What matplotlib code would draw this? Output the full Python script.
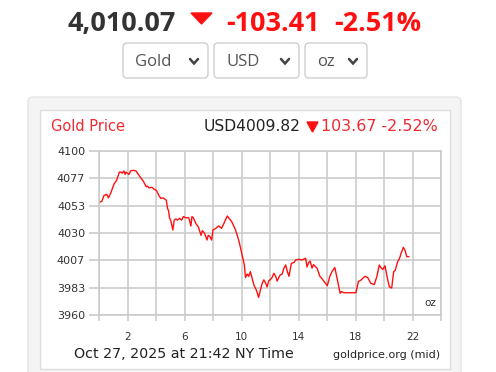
import matplotlib.pyplot as plt
from matplotlib.patches import FancyBboxPatch, Rectangle, Polygon

# hours since midnight NY time and gold price (USD/oz)
hours = [0.0, 0.2, 0.35, 0.54, 0.66, 0.82, 1.06, 1.24, 1.43, 1.55, 1.62, 1.75, 1.83, 1.9, 2.0,
         2.1, 2.22, 2.4, 2.6, 2.7, 2.94, 3.12, 3.31, 3.4, 3.5, 3.72, 3.85, 3.94, 4.05, 4.2,
         4.34, 4.5, 4.72, 4.81, 4.88, 4.95, 5.05, 5.18, 5.28, 5.4, 5.5, 5.66, 5.8, 5.92, 6.1,
         6.3, 6.45, 6.52, 6.62, 6.8, 6.98, 7.16, 7.25, 7.4, 7.58, 7.66, 7.78, 7.9, 8.0, 8.2,
         8.4, 8.6, 8.72, 9.0, 9.1, 9.3, 9.58, 9.8, 9.9, 10.05, 10.2, 10.28, 10.4, 10.5, 10.62,
         10.73, 10.87, 11.05, 11.2, 11.3, 11.45, 11.57, 11.7, 11.8, 11.9, 12.0, 12.15, 12.27,
         12.4, 12.5, 12.7, 12.85, 12.98, 13.1, 13.22, 13.33, 13.5, 13.7, 13.8, 14.04, 14.25,
         14.5, 14.6, 14.72, 14.82, 14.95, 15.05, 15.3, 15.5, 15.65, 15.9, 16.02, 16.2, 16.35,
         16.55, 16.68, 16.78, 16.92, 17.0, 17.2, 18.03, 18.2, 18.4, 18.66, 18.85, 19.08, 19.32,
         19.5, 19.67, 19.8, 19.92, 20.07, 20.26, 20.38, 20.54, 20.68, 20.78, 20.85, 20.96,
         21.08, 21.2, 21.36, 21.48, 21.6, 21.74]
prices = [4056, 4057, 4062, 4063, 4060, 4064, 4072, 4075, 4082, 4082, 4081, 4083, 4080, 4082, 4081,
          4080, 4083, 4083.5, 4083, 4081, 4077, 4074, 4069.5, 4070, 4068.5, 4069, 4067.5, 4067, 4066, 4062,
          4059.6, 4060, 4058, 4051, 4049, 4043, 4040, 4032.6, 4041, 4042, 4041, 4042.5, 4041, 4044, 4043,
          4043, 4036, 4044, 4043, 4038, 4035, 4028, 4032, 4030, 4024, 4028, 4027, 4024, 4032.6, 4034,
          4036, 4034, 4037, 4044.5, 4043, 4040, 4032.6, 4024, 4019, 4011, 4002.7, 3992, 3995, 3993, 3997,
          3992, 3985.6, 3981, 3975, 3980, 3987, 3990, 3987, 3984, 3989, 3990, 3992, 3995.6,
          3993, 3989, 3994, 3995, 4000, 4002.7, 3997, 3993, 4004, 4005, 4007, 4007.5, 4007,
          4008.4, 4001, 4005, 4006, 4000, 4003, 4000, 3993, 3991, 3987, 3985, 3993, 3997,
          4000.5, 3993, 3987, 3978.5, 3980, 3979, 3979, 3988.5, 3990, 3993, 3992, 3987, 3986,
          3993, 4002.7, 4000, 3999, 4002, 3990, 3984, 3983, 3997, 3998, 4001, 4005.5,
          4008, 4012.7, 4017.8, 4015, 4009.8, 4009.8]

y_ticks = [3960, 3983, 4007, 4030, 4053, 4077, 4100]
x_ticks = list(range(0, 25, 2))
x_labels = ['', '2', '', '6', '', '10', '', '14', '', '18', '', '22', '']
menus = ['Gold', 'USD', 'oz']

RED = '#ff1010'
W, H = 496, 372

fig = plt.figure(figsize=(W / 100, H / 100), dpi=100)
fig.patch.set_facecolor('white')

# overlay in pixel coordinates for the widget decorations
bg = fig.add_axes([0, 0, 1, 1])
bg.set_xlim(0, W)
bg.set_ylim(H, 0)
bg.axis('off')

# header
hdr = dict(family='Open Sans', weight='bold', fontsize=19.5, va='baseline')
bg.text(68, 31, '4,010.07', color='#333333', **hdr)
bg.add_patch(Polygon([(191, 13), (212, 13), (201.5, 24)], closed=True, color=RED))
bg.text(226, 31, '-103.41', color=RED, **hdr)
bg.text(334, 31, '-2.51%', color=RED, **hdr)

# dropdowns
boxes = [(123, 208), (214, 299), (305, 367)]
for (x0, x1), label in zip(boxes, menus):
    bg.add_patch(FancyBboxPatch((x0, 43), x1 - x0, 35,
                                boxstyle='round,pad=0,rounding_size=4',
                                fc='white', ec='#cfcfcf', lw=1))
    bg.text(x0 + 12, 66, label, family='Open Sans', fontsize=12,
            color='#555555', va='baseline')
    cx = x1 - 14
    bg.plot([cx - 4, cx, cx + 4], [59, 63.5, 59], color='#444444', lw=1.8,
            solid_capstyle='round', solid_joinstyle='miter')

# chart panel
bg.add_patch(FancyBboxPatch((28, 97), 433, 290,
                            boxstyle='round,pad=0,rounding_size=5',
                            fc='#f4f4f4', ec='#e4e4e4', lw=1))
bg.add_patch(Rectangle((40, 110), 410, 259, fc='white', ec='#dddddd', lw=1))

bg.text(51, 131, 'Gold Price', color='#ee2b33', fontsize=10.5, va='baseline')
bg.text(204, 131, 'USD4009.82', color='#222222', fontsize=11.2, va='baseline')
bg.add_patch(Polygon([(307, 122), (318, 122), (312.5, 132)], closed=True, color=RED))
bg.text(438, 131, '103.67 -2.52%', color='#ee2b33', fontsize=11.4, va='baseline',
        ha='right')
bg.text(74, 358, 'Oct 27, 2025 at 21:42 NY Time', color='#222222', fontsize=10.25,
        va='baseline')
bg.text(440, 358, 'goldprice.org (mid)', color='#222222', fontsize=8,
        va='baseline', ha='right')

# price chart
ax = fig.add_axes([99 / W, 1 - 315 / H, 342 / W, 164 / H])
ax.set_facecolor('none')
ax.plot(hours, prices, color=RED, lw=1)
ax.set_xlim(0, 24)
ax.set_ylim(3960, 4100)
ax.set_xticks(x_ticks)
ax.set_xticklabels(x_labels)
ax.set_yticks(y_ticks)
ax.grid(color='#cccccc', lw=1.2)
ax.set_axisbelow(True)
for s in ax.spines.values():
    s.set_color('#cccccc')
    s.set_linewidth(1.2)
ax.tick_params(axis='x', length=4, width=1.2, color='#cccccc', pad=8,
               labelsize=7.5, labelcolor='#333333')
ax.tick_params(axis='y', length=7, width=1.2, color='#cccccc', pad=3,
               labelsize=8, labelcolor='#333333')
ax.text(0.985, 0.04, 'oz', transform=ax.transAxes, ha='right', va='bottom',
        fontsize=7.5, color='#333333')

fig.savefig('out.png', dpi=100)
